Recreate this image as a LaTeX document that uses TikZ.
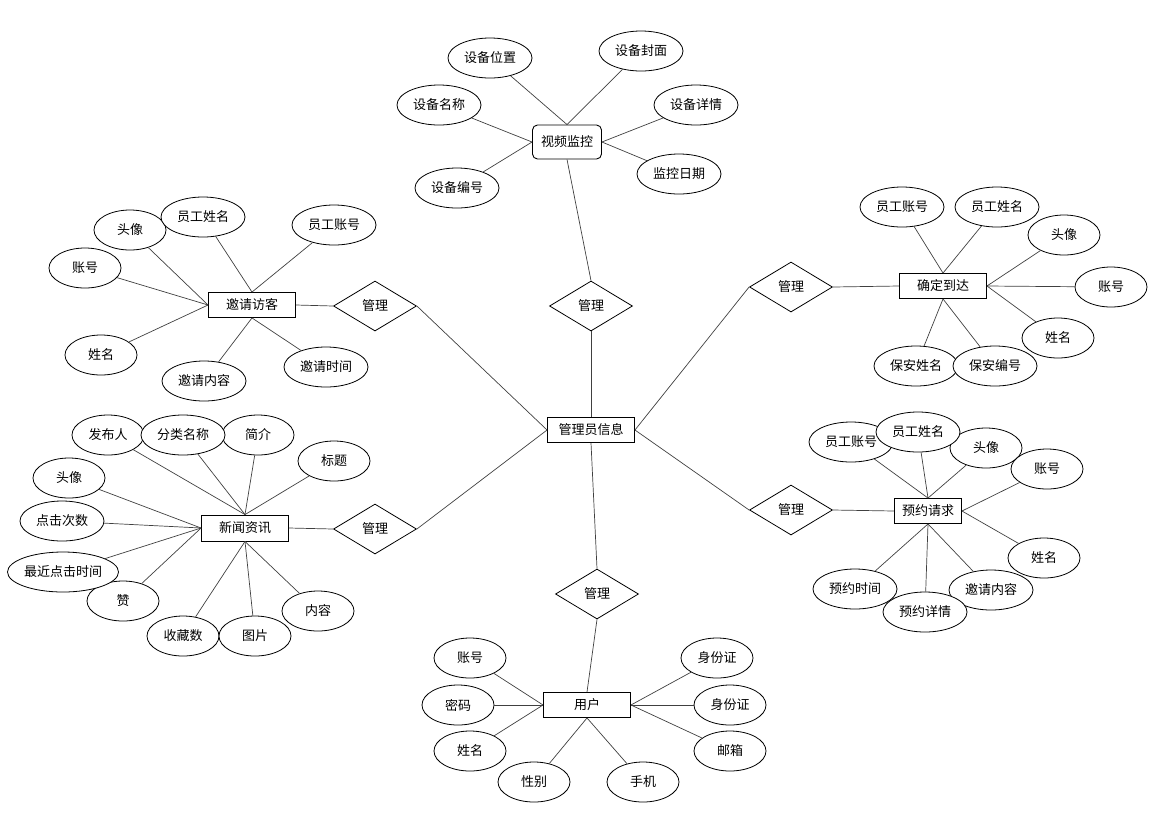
\documentclass[tikz,border=0pt]{standalone}
\usepackage{fontspec}
\newfontfamily\cjk{Noto Sans CJK SC}
\usetikzlibrary{
  shapes.geometric % 菱形与椭圆
}
\tikzset{
  entity/.style={
    draw, rectangle,
    line width=0.9pt,
    minimum width=87, minimum height=25,
    inner sep=0pt, fill=white,
    font=\cjk\fontsize{13}{15}\selectfont
  },
  relation/.style={
    draw, diamond,
    line width=0.8pt,
    minimum width=83, minimum height=50,
    inner sep=0pt, fill=white,
    font=\cjk\fontsize{13}{15}\selectfont
  },
  attr/.style={
    draw, ellipse,
    line width=0.8pt,
    minimum width=72, minimum height=40,
    inner sep=0pt, fill=white,
    font=\cjk\fontsize{13}{15}\selectfont
  },
  wide attr/.style={attr, minimum width=84},
  link/.style={
    line width=0.7pt,
    color=black!75
  }
}

\begin{document}
\begin{tikzpicture}[x=1pt, y=-1pt]
    \useasboundingbox (0,0) rectangle (1167,812);

    % --- 实体 ---
    \node[entity] (admin)   at (591,430) {管理员信息};
    \node[entity, minimum width=69, minimum height=34, rounded corners=5pt] (video) at (567,142) {视频监控};
    \node[entity] (invite)  at (252,305) {邀请访客};
    \node[entity] (arrive)  at (943,286) {确定到达};
    \node[entity, minimum height=26] (news) at (245,528) {新闻资讯};
    \node[entity, minimum width=67] (booking) at (928,511) {预约请求};
    \node[entity] (user)    at (587,705) {用户};

    % --- 联系（管理） ---
    \node[relation] (rVideo)  at (591,306) {管理};
    \node[relation] (rInvite) at (375,306) {管理};
    \node[relation] (rNews)   at (375,529) {管理};
    \node[relation] (rArrive) at (791,287) {管理};
    \node[relation] (rBook)   at (791,510) {管理};
    \node[relation] (rUser)   at (597,594) {管理};

    % --- 视频监控属性 ---
    \node[wide attr] (v1) at (490,58)  {设备位置};
    \node[wide attr] (v2) at (641,51)  {设备封面};
    \node[wide attr] (v3) at (439,105) {设备名称};
    \node[wide attr] (v4) at (696,105) {设备详情};
    \node[wide attr] (v5) at (679,174) {监控日期};
    \node[wide attr] (v6) at (457,188) {设备编号};

    % --- 邀请访客属性 ---
    \node[attr]      (i1) at (130,230) {头像};
    \node[wide attr] (i2) at (203,217) {员工姓名};
    \node[wide attr] (i3) at (334,225) {员工账号};
    \node[attr]      (i4) at (85,268)  {账号};
    \node[attr]      (i5) at (101,355) {姓名};
    \node[wide attr] (i6) at (204,381) {邀请内容};
    \node[wide attr] (i7) at (326,367) {邀请时间};

    % --- 确定到达属性 ---
    \node[wide attr] (a1) at (902,207)  {员工账号};
    \node[wide attr] (a2) at (997,207)  {员工姓名};
    \node[attr]      (a3) at (1064,235) {头像};
    \node[attr]      (a4) at (1111,287) {账号};
    \node[attr]      (a5) at (1058,338) {姓名};
    \node[wide attr] (a6) at (916,366)  {保安姓名};
    \node[wide attr] (a7) at (995,366)  {保安编号};

    % --- 新闻资讯属性 ---
    \node[attr]      (n1)  at (108,435) {发布人};
    \node[attr]      (n3)  at (258,435) {简介};
    \node[wide attr] (n2)  at (183,435) {分类名称};
    \node[attr]      (n4)  at (334,461) {标题};
    \node[attr]      (n5)  at (69,478)  {头像};
    \node[wide attr] (n6)  at (62,521)  {点击次数};
    \node[attr]      (n8)  at (123,601) {赞};
    \node[attr, minimum width=111] (n7) at (63,572) {最近点击时间};
    \node[attr]      (n9)  at (183,636) {收藏数};
    \node[attr]      (n10) at (255,636) {图片};
    \node[attr]      (n11) at (318,611) {内容};

    % --- 预约请求属性 ---
    \node[wide attr] (b1) at (851,442)  {员工账号};
    \node[attr]      (b3) at (986,448)  {头像};
    \node[wide attr] (b2) at (918,432)  {员工姓名};
    \node[attr]      (b4) at (1047,469) {账号};
    \node[attr]      (b5) at (1044,558) {姓名};
    \node[wide attr] (b6) at (855,589)  {预约时间};
    \node[wide attr] (b8) at (991,590)  {邀请内容};
    \node[wide attr] (b7) at (925,612)  {预约详情};

    % --- 用户属性 ---
    \node[attr] (u1) at (470,658) {账号};
    \node[attr] (u2) at (458,705) {密码};
    \node[attr] (u3) at (470,751) {姓名};
    \node[attr] (u4) at (534,782) {性别};
    \node[attr] (u5) at (643,782) {手机};
    \node[attr] (u6) at (717,658) {身份证};
    \node[attr] (u7) at (730,705) {身份证};
    \node[attr] (u8) at (730,751) {邮箱};

    % --- 连线 ---
    \foreach \a/\b in {rVideo.south/admin.north, rInvite.east/admin.west,
                       rNews.east/admin.west, rArrive.west/admin.east,
                       rBook.west/admin.east, rUser.north/admin.south,
                       video.south/rVideo.north, invite.east/rInvite.west,
                       news.east/rNews.west, rArrive.east/arrive.west,
                       rBook.east/booking.west, rUser.south/user.north}
      \draw[link] (\a) -- (\b);

    \foreach \a/\b in {v1/north, v2/north, v3/west, v6/west, v4/east, v5/east}
      \draw[link] (\a) -- (video.\b);
    \foreach \a/\b in {i2/north, i3/north, i1/west, i4/west, i5/west, i6/south, i7/south}
      \draw[link] (\a) -- (invite.\b);
    \foreach \a/\b in {a1/north, a2/north, a3/east, a4/east, a5/east, a6/south, a7/south}
      \draw[link] (\a) -- (arrive.\b);
    \foreach \a/\b in {n1/north, n2/north, n3/north, n4/north, n5/west, n6/west,
                       n7/west, n8/west, n9/south, n10/south, n11/south}
      \draw[link] (\a) -- (news.\b);
    \foreach \a/\b in {b1/north, b2/north, b3/north, b4/east, b5/east,
                       b6/south, b7/south, b8/south}
      \draw[link] (\a) -- (booking.\b);
    \foreach \a/\b in {u1/west, u2/west, u3/west, u4/south, u5/south,
                       u6/east, u7/east, u8/east}
      \draw[link] (\a) -- (user.\b);

  \end{tikzpicture}
\end{document}
